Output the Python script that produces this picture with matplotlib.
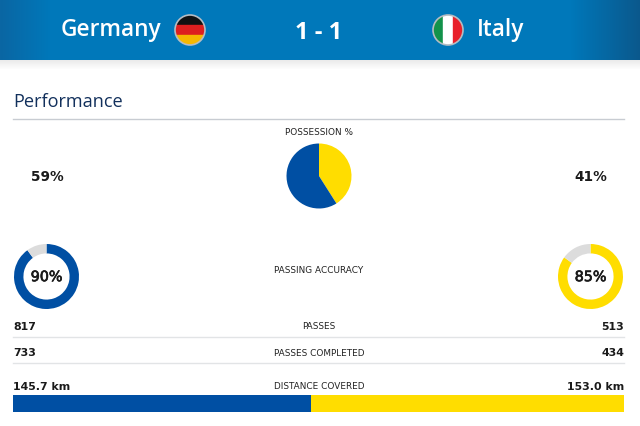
import numpy as np
import matplotlib
matplotlib.use("Agg")
import matplotlib.pyplot as plt
import matplotlib.patheffects as pe
from matplotlib.patches import Circle, Rectangle

# -----------------------------------
# DATA
# -----------------------------------
teams = ["Germany", "Italy"]
score = "1 - 1"
possession = [59, 41]
accuracy = [90, 85]
passes = [817, 513]
completed = [733, 434]
distance = [145.7, 153.0]

BLUE = "#004fa3"
YELLOW = "#ffdd00"
GREY = "#dcdcdc"
DARK = "#1a1a1a"
LABEL = "#222222"
W, H = 640, 426


def y_(y):
    return H - y


def px_axes(fig, cx, cy, r):
    return fig.add_axes([(cx - r) / W, (H - cy - r) / H, 2 * r / W, 2 * r / H])


fig = plt.figure(figsize=(6.4, 4.26), dpi=100, facecolor="white")
ax = fig.add_axes([0, 0, 1, 1])
ax.set_xlim(0, W)
ax.set_ylim(0, H)
ax.axis("off")

# -----------------------------------
# HEADER
# -----------------------------------
mid = np.array([0x00, 0x78, 0xba]) / 255
left_end = np.array([0x0a, 0x66, 0xa3]) / 255
right_end = np.array([0x0b, 0x58, 0x8c]) / 255
xs = np.arange(640)
fade_l = np.clip((50 - xs) / 50, 0, 1)[:, None]
fade_r = np.clip((xs - 570) / 70, 0, 1)[:, None]
band = mid + fade_l * (left_end - mid) + fade_r * (right_end - mid)
ax.imshow(band[None, :, :], extent=[0, W, y_(60), y_(0)], aspect="auto", zorder=1)
shade = np.ones((10, 1, 4))
shade[:, 0, :3] = 0.65
shade[:, 0, 3] = np.linspace(0.22, 0, 10)
ax.imshow(shade, extent=[0, W, y_(70), y_(60)], aspect="auto", zorder=1)
ax.set_xlim(0, W)
ax.set_ylim(0, H)

ax.text(161, y_(30), teams[0], color="white", fontsize=16.3, family="Open Sans",
        weight="semibold", ha="right", va="center", zorder=3)
ax.text(477, y_(30), teams[1], color="white", fontsize=16.3, family="Open Sans",
        weight="semibold", ha="left", va="center", zorder=3)
ax.text(319, y_(33), score, color="white", fontsize=17, family="Open Sans",
        weight="bold", ha="center", va="center", zorder=3)


def flag(cx, cy, colours, vertical):
    r = 15
    clip = Circle((cx, y_(cy)), r, transform=ax.transData)
    n = len(colours)
    for i, c in enumerate(colours):
        if vertical:
            patch = Rectangle((cx - r + 2 * r * i / n, y_(cy) - r), 2 * r / n, 2 * r, color=c, zorder=3)
        else:
            patch = Rectangle((cx - r, y_(cy) + r - 2 * r * (i + 1) / n), 2 * r, 2 * r / n, color=c, zorder=3)
        ax.add_patch(patch)
        patch.set_clip_path(clip)
    ax.add_patch(Circle((cx, y_(cy)), r, fill=False, ec="#b5bcc2", lw=1.2, zorder=4))


flag(190, 30, ["#111111", "#dd1f1f", "#f5b800"], False)
flag(448, 30, ["#12924a", "#ffffff", "#e8202a"], True)

# -----------------------------------
# PERFORMANCE HEADING
# -----------------------------------
ax.text(13, y_(102), "Performance", color="#12305c", fontsize=13.1, family="Open Sans",
        ha="left", va="center", zorder=3)
ax.plot([13, 624], [y_(118.5), y_(118.5)], color="#c8ccd2", lw=1, zorder=2)

# -----------------------------------
# POSSESSION
# -----------------------------------
ax.text(319, y_(132.5), "POSSESSION %", color=LABEL, fontsize=6.4, ha="center", va="center")
ax.text(47, y_(177), f"{possession[0]}%", color=DARK, fontsize=9.8, weight="bold", ha="center", va="center")
ax.text(591, y_(177), f"{possession[1]}%", color=DARK, fontsize=9.8, weight="bold", ha="center", va="center")

pie_ax = px_axes(fig, 319, 176, 32.5)
pie_ax.pie([possession[1], possession[0]], colors=[YELLOW, BLUE], startangle=90,
           counterclock=False, radius=1)
pie_ax.set_xlim(-1, 1)
pie_ax.set_ylim(-1, 1)


# -----------------------------------
# PASSING ACCURACY
# -----------------------------------
def donut(cx, cy, value, colour):
    d_ax = px_axes(fig, cx, cy, 32.5)
    d_ax.pie([value, 100 - value], colors=[colour, GREY], startangle=90, counterclock=False,
             radius=1, wedgeprops={"width": 0.29})
    d_ax.set_xlim(-1, 1)
    d_ax.set_ylim(-1, 1)
    t = d_ax.text(0, -0.02, f"{value}%", color=DARK, fontsize=10.3, ha="center", va="center")
    t.set_path_effects([pe.withStroke(linewidth=0.5, foreground=DARK)])


donut(46.5, 276.5, accuracy[0], BLUE)
donut(590.5, 276.5, accuracy[1], YELLOW)
ax.text(319, y_(270.5), "PASSING ACCURACY", color=LABEL, fontsize=6.4, ha="center", va="center")

# -----------------------------------
# ROWS
# -----------------------------------
rows = [
    (326.5, "PASSES", str(passes[0]), str(passes[1])),
    (353.5, "PASSES COMPLETED", str(completed[0]), str(completed[1])),
    (386.5, "DISTANCE COVERED", f"{distance[0]} km", f"{distance[1]} km"),
]
for y, label, a, b in rows:
    ax.text(319, y_(y), label, color=LABEL, fontsize=6.4, ha="center", va="center")
    ax.text(13, y_(y), a, color=DARK, fontsize=7.9, weight="bold", ha="left", va="center")
    ax.text(624, y_(y), b, color=DARK, fontsize=7.9, weight="bold", ha="right", va="center")

for y in [336.5, 362.5]:
    ax.plot([13, 624], [y_(y), y_(y)], color="#e2e4e6", lw=1, zorder=2)

# -----------------------------------
# DISTANCE BAR
# -----------------------------------
bar_w = 611
split = bar_w * distance[0] / sum(distance)
ax.barh(y_(403.5), split, height=17, left=13, color=BLUE, zorder=2)
ax.barh(y_(403.5), bar_w - split, height=17, left=13 + split, color=YELLOW, zorder=2)
ax.set_xlim(0, W)
ax.set_ylim(0, H)

fig.savefig("out.png", dpi=100)
